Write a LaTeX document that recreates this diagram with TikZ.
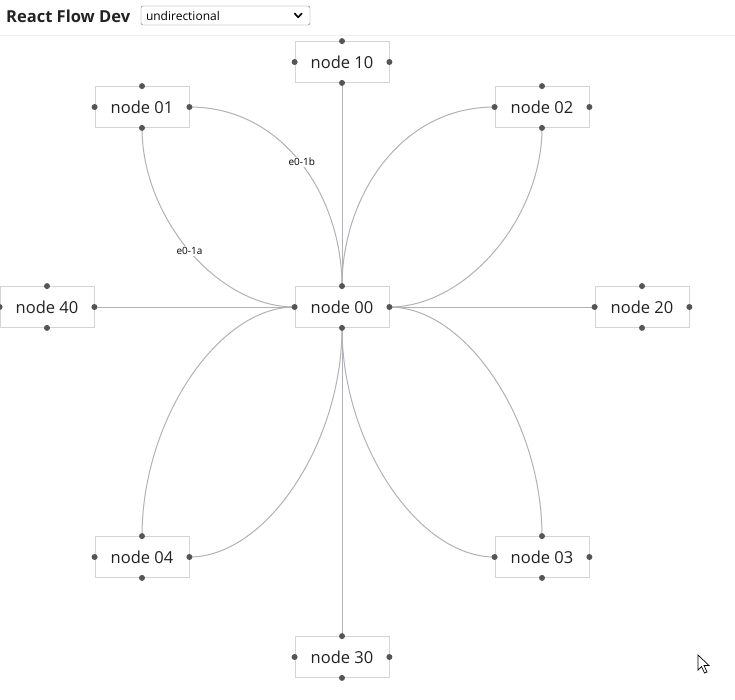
\documentclass[tikz,border=0pt]{standalone}
\usepackage{fontspec}
\setmainfont{Open Sans}
\usetikzlibrary{positioning,arrows.meta}
\definecolor{edgegray}{HTML}{B1B1B7}
\definecolor{handlegray}{HTML}{555555}
\definecolor{boxgray}{HTML}{D4D4D4}
\definecolor{textdark}{HTML}{222222}
\definecolor{barline}{HTML}{EEEEEE}
\definecolor{selectgray}{HTML}{767676}

\begin{document}
\begin{tikzpicture}[x=1pt, y=-1pt,
    flownode/.style={draw=boxgray, line width=0.8pt, fill=white, minimum width=94pt, minimum height=41pt, inner sep=0pt, font=\fontsize{16.5}{19}\selectfont, text=textdark},
    edge/.style={draw=edgegray, line width=1pt},
    elabel/.style={fill=white, inner sep=1.5pt, font=\fontsize{10}{12}\selectfont, text=black},
    handle/.style={fill=handlegray}
]
\useasboundingbox (0,0) rectangle (735,699);

% header
\node[anchor=west, font=\bfseries\fontsize{16.5}{19}\selectfont, text=textdark, inner sep=0pt] (title) at (6,16) {React Flow Dev};
\node[draw=selectgray, rounded corners=1.5pt, minimum width=169pt, minimum height=19pt, inner sep=0pt] (select) at (225.5,15.5) {};
\node[anchor=west, font=\fontsize{12}{14}\selectfont, inner sep=0pt] (selecttext) at ([xshift=5pt]select.west) {undirectional};
\coordinate (chev) at ([xshift=-12pt]select.east);
\draw[line width=1.6pt, line cap=round, line join=round] ([shift={(-3.5,-2)}]chev) -- ([shift={(0,1.8)}]chev) -- ([shift={(3.5,-2)}]chev);
\draw[barline, line width=1pt] (0,35.5) -- (735,35.5);

% nodes
\node[flownode] (n00) at (342,307) {node 00};
\node[flownode] (n10) at (342,62) {node 10};
\node[flownode] (n01) at (142,107) {node 01};
\node[flownode] (n02) at (542,107) {node 02};
\node[flownode] (n40) at (47,307) {node 40};
\node[flownode] (n20) at (642,307) {node 20};
\node[flownode] (n04) at (142,557) {node 04};
\node[flownode] (n03) at (542,557) {node 03};
\node[flownode] (n30) at (342,657) {node 30};

% edges
\draw[edge] (n00.north) -- (n10.south);
\draw[edge] (n00.south) -- (n30.north);
\draw[edge] (n00.west) -- (n40.east);
\draw[edge] (n00.east) -- (n20.west);
\draw[edge] (n01.south) .. controls +(0,90) and +(-77,0) .. (n00.west) node[elabel, pos=0.5] {e0-1a};
\draw[edge] (n01.east) .. controls +(96,0) and +(0,-87) .. (n00.north) node[elabel, pos=0.5, yshift=2pt] {e0-1b};
\draw[edge] (n02.west) .. controls +(-96,0) and +(0,-87) .. (n00.north);
\draw[edge] (n02.south) .. controls +(0,90) and +(77,0) .. (n00.east);
\draw[edge] (n00.east) .. controls +(77,0) and +(0,-115) .. (n03.north);
\draw[edge] (n00.south) .. controls +(0,115) and +(-77,0) .. (n03.west);
\draw[edge] (n00.west) .. controls +(-77,0) and +(0,-115) .. (n04.north);
\draw[edge] (n00.south) .. controls +(0,115) and +(77,0) .. (n04.east);

% handles
\foreach \n in {n00,n10,n01,n02,n40,n20,n04,n03,n30}{
  \foreach \a in {north,south,east,west}{
    \fill[handle] (\n.\a) circle (3pt);
  }
}

% cursor
\draw[fill=white, line width=0.7pt, line join=miter] (698,655) -- (698,670) -- (701.5,666.5) -- (704.5,673) -- (707,672) -- (704,665.5) -- (709,665.5) -- cycle;
\end{tikzpicture}
\end{document}
